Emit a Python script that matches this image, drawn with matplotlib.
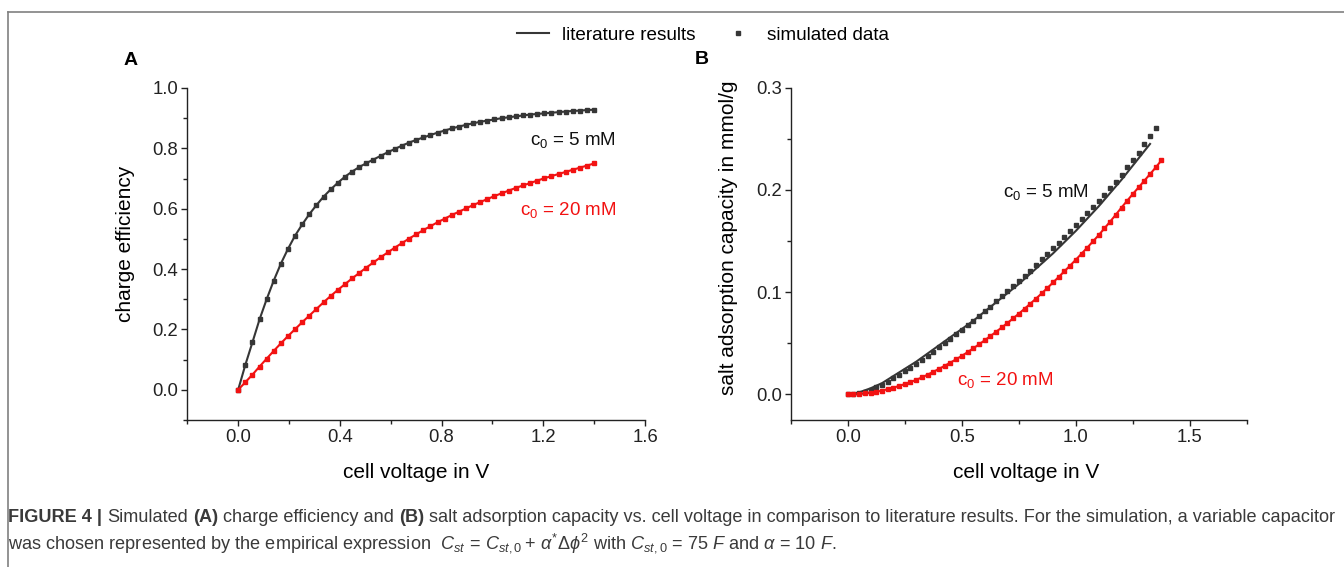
import matplotlib
matplotlib.use('Agg')
import matplotlib.pyplot as plt
from matplotlib.lines import Line2D
from matplotlib.ticker import MultipleLocator

plt.rcParams['font.family'] = ['Liberation Sans', 'DejaVu Sans']
plt.rcParams['mathtext.fontset'] = 'custom'
plt.rcParams['mathtext.rm'] = 'Liberation Sans'
plt.rcParams['mathtext.it'] = 'Liberation Sans:italic'
plt.rcParams['mathtext.bf'] = 'Liberation Sans:bold'

# ---------------- data ----------------
volt_A = [0.000, 0.028, 0.056, 0.084, 0.112, 0.140, 0.168, 0.196, 0.224, 0.252,
          0.280, 0.308, 0.336, 0.364, 0.392, 0.420, 0.448, 0.476, 0.504, 0.532,
          0.560, 0.588, 0.616, 0.644, 0.672, 0.700, 0.728, 0.756, 0.784, 0.812,
          0.840, 0.868, 0.896, 0.924, 0.952, 0.980, 1.008, 1.036, 1.064, 1.092,
          1.120, 1.148, 1.176, 1.204, 1.232, 1.260, 1.288, 1.316, 1.344, 1.372,
          1.400]
eff_5mM = [0.000, 0.082, 0.157, 0.233, 0.300, 0.362, 0.418, 0.467, 0.511, 0.548,
           0.582, 0.612, 0.640, 0.664, 0.686, 0.706, 0.723, 0.738, 0.751, 0.763,
           0.775, 0.787, 0.798, 0.809, 0.819, 0.828, 0.836, 0.844, 0.852, 0.859,
           0.866, 0.872, 0.878, 0.883, 0.888, 0.892, 0.896, 0.900, 0.903, 0.906,
           0.909, 0.912, 0.914, 0.916, 0.918, 0.920, 0.922, 0.924, 0.925, 0.927,
           0.928]
eff_20mM = [0.000, 0.025, 0.050, 0.077, 0.103, 0.129, 0.154, 0.178, 0.201, 0.224,
            0.246, 0.268, 0.290, 0.311, 0.331, 0.350, 0.369, 0.387, 0.405, 0.422,
            0.439, 0.455, 0.471, 0.486, 0.501, 0.515, 0.529, 0.542, 0.555, 0.567,
            0.579, 0.590, 0.601, 0.612, 0.622, 0.632, 0.642, 0.651, 0.660, 0.669,
            0.677, 0.685, 0.693, 0.701, 0.708, 0.715, 0.722, 0.729, 0.736, 0.743,
            0.750]

volt_B = [0.000, 0.025, 0.050, 0.075, 0.100, 0.125, 0.150, 0.175, 0.200, 0.225,
          0.250, 0.275, 0.300, 0.325, 0.350, 0.375, 0.400, 0.425, 0.450, 0.475,
          0.500, 0.525, 0.550, 0.575, 0.600, 0.625, 0.650, 0.675, 0.700, 0.725,
          0.750, 0.775, 0.800, 0.825, 0.850, 0.875, 0.900, 0.925, 0.950, 0.975,
          1.000, 1.025, 1.050, 1.075, 1.100, 1.125, 1.150, 1.175, 1.200, 1.225,
          1.250, 1.275, 1.300, 1.325, 1.350, 1.375]
sac_sim_5mM = [0.0000, 0.0003, 0.0012, 0.0027, 0.0048, 0.0070, 0.0096, 0.0125, 0.0156, 0.0190,
               0.0225, 0.0261, 0.0298, 0.0338, 0.0378, 0.0419, 0.0461, 0.0503, 0.0546, 0.0589,
               0.0633, 0.0677, 0.0721, 0.0766, 0.0812, 0.0860, 0.0909, 0.0959, 0.1010, 0.1060,
               0.1110, 0.1160, 0.1210, 0.1265, 0.1320, 0.1375, 0.1430, 0.1485, 0.1540, 0.1600,
               0.1660, 0.1715, 0.1770, 0.1830, 0.1890, 0.1952, 0.2015, 0.2080, 0.2150, 0.2220,
               0.2290, 0.2365, 0.2445, 0.2525, 0.2610]
sac_20mM = [0.0000, 0.0001, 0.0004, 0.0010, 0.0017, 0.0026, 0.0037, 0.0051, 0.0066, 0.0083,
            0.0101, 0.0121, 0.0142, 0.0167, 0.0193, 0.0221, 0.0250, 0.0280, 0.0311, 0.0344,
            0.0377, 0.0413, 0.0450, 0.0489, 0.0529, 0.0570, 0.0612, 0.0655, 0.0698, 0.0744,
            0.0790, 0.0838, 0.0887, 0.0937, 0.0988, 0.1041, 0.1095, 0.1150, 0.1205, 0.1261,
            0.1318, 0.1377, 0.1436, 0.1497, 0.1558, 0.1624, 0.1690, 0.1758, 0.1828, 0.1895,
            0.1962, 0.2025, 0.2090, 0.2155, 0.2220, 0.2290]

volt_lit_B5 = [0.00, 0.05, 0.10, 0.15, 0.20, 0.25, 0.30, 0.35, 0.40, 0.45, 0.50, 0.55,
               0.60, 0.65, 0.70, 0.75, 0.80, 0.85, 0.90, 0.95, 1.00, 1.05, 1.10, 1.15,
               1.20, 1.25, 1.30, 1.325]
sac_lit_5mM = [0.000, 0.002, 0.006, 0.011, 0.018, 0.025, 0.032, 0.040, 0.048, 0.056, 0.064, 0.072,
               0.081, 0.090, 0.099, 0.108, 0.118, 0.128, 0.138, 0.149, 0.160, 0.172, 0.184, 0.197,
               0.210, 0.224, 0.238, 0.245]

xticks_A = [0.0, 0.4, 0.8, 1.2, 1.6]
yticks_A = [0.0, 0.2, 0.4, 0.6, 0.8, 1.0]
xticks_B = [0.0, 0.5, 1.0, 1.5]
yticks_B = [0.0, 0.1, 0.2, 0.3]

# ---------------- styling ----------------
W, H = 1344, 567
DARK = '#363636'
RED = '#f21212'
LW = 1.5
MS = 3.4
TICK_FS = 13.3
LABEL_FS = 15
ANN_FS = 13.5

fig = plt.figure(figsize=(W / 100, H / 100), dpi=100)


def px_axes(left, top, right, bottom):
    return fig.add_axes([left / W, 1 - bottom / H, (right - left) / W, (bottom - top) / H])


axA = px_axes(187.3, 88, 645, 420)
axB = px_axes(790.7, 87.7, 1247, 420)

for ax in (axA, axB):
    for s in ('top', 'right'):
        ax.spines[s].set_visible(False)
    for s in ('left', 'bottom'):
        ax.spines[s].set_linewidth(1.0)
        ax.spines[s].set_color('#222222')
    ax.tick_params(which='major', direction='out', length=4.5, width=1.0,
                   labelsize=TICK_FS, pad=2, colors='#222222')
    ax.tick_params(which='minor', direction='out', length=2.6, width=1.0, colors='#222222')

# Panel A
axA.plot(volt_A, eff_5mM, color=DARK, lw=LW, zorder=2)
axA.plot(volt_A, eff_5mM, ls='none', marker='s', ms=MS, color=DARK, mec=DARK, zorder=3)
axA.plot(volt_A, eff_20mM, color=RED, lw=LW, zorder=2)
axA.plot(volt_A, eff_20mM, ls='none', marker='s', ms=MS, color=RED, mec=RED, zorder=3)
axA.set_xlim(-0.2, 1.6)
axA.set_ylim(-0.1, 1.0)
axA.set_xticks(xticks_A)
axA.set_yticks(yticks_A)
axA.set_xticklabels([f'{v:.1f}' for v in xticks_A])
axA.set_yticklabels([f'{v:.1f}' for v in yticks_A])
axA.xaxis.set_minor_locator(MultipleLocator(0.2))
axA.yaxis.set_minor_locator(MultipleLocator(0.1))
axA.set_xlabel('cell voltage in V', fontsize=LABEL_FS)
axA.set_ylabel('charge efficiency', fontsize=LABEL_FS)
axA.xaxis.set_label_coords(0.50, -0.13)
axA.yaxis.set_label_coords(-0.114, 0.53)
axA.text(1.148, 0.828, r'c$_0$ = 5 mM', color='#111111', fontsize=ANN_FS, ha='left', va='center')
axA.text(1.108, 0.596, r'c$_0$ = 20 mM', color=RED, fontsize=ANN_FS, ha='left', va='center')

# Panel B
axB.plot(volt_lit_B5, sac_lit_5mM, color=DARK, lw=LW, zorder=2)
axB.plot(volt_B[:len(sac_sim_5mM)], sac_sim_5mM, ls='none', marker='s', ms=MS,
         color=DARK, mec=DARK, zorder=3)
axB.plot(volt_B, sac_20mM, color=RED, lw=LW, zorder=2)
axB.plot(volt_B, sac_20mM, ls='none', marker='s', ms=MS, color=RED, mec=RED, zorder=3)
axB.set_xlim(-0.25, 1.75)
axB.set_ylim(-0.025, 0.3)
axB.set_xticks(xticks_B)
axB.set_yticks(yticks_B)
axB.set_xticklabels([f'{v:.1f}' for v in xticks_B])
axB.set_yticklabels([f'{v:.1f}' for v in yticks_B])
axB.xaxis.set_minor_locator(MultipleLocator(0.25))
axB.yaxis.set_minor_locator(MultipleLocator(0.05))
axB.set_xlabel('cell voltage in V', fontsize=LABEL_FS)
axB.set_ylabel('salt adsorption capacity in mmol/g', fontsize=LABEL_FS)
axB.xaxis.set_label_coords(0.517, -0.13)
axB.yaxis.set_label_coords(-0.1155, 0.548)
axB.text(0.681, 0.198, r'c$_0$ = 5 mM', color='#111111', fontsize=ANN_FS, ha='left', va='center')
axB.text(0.477, 0.014, r'c$_0$ = 20 mM', color=RED, fontsize=ANN_FS, ha='left', va='center')

# Panel letters
fig.text(131 / W, 1 - 61 / H, 'A', fontsize=14, fontweight='bold', ha='center', va='center')
fig.text(702 / W, 1 - 60 / H, 'B', fontsize=14, fontweight='bold', ha='center', va='center')

# Legend
handles = [Line2D([], [], color=DARK, lw=LW),
           Line2D([], [], ls='none', marker='s', ms=MS, color=DARK)]
fig.legend(handles, ['literature results', 'simulated data'], loc='center',
           bbox_to_anchor=(703 / W, 1 - 35 / H), ncol=2, frameon=False,
           fontsize=13.6, handlelength=1.7, handletextpad=0.7, columnspacing=1.4)

# Outer frame (top and left edges visible)
fig.add_artist(Line2D([7.7 / W, 1.01], [1 - 12 / H, 1 - 12 / H], transform=fig.transFigure,
                      color='#808080', lw=1.2))
fig.add_artist(Line2D([7.7 / W, 7.7 / W], [1 - 12 / H, -0.01], transform=fig.transFigure,
                      color='#808080', lw=1.2))

# Caption
CAP_FONT = ['Liberation Sans Narrow', 'Liberation Sans', 'DejaVu Sans']
CAP_COLOR = '#3a3a3a'
renderer = fig.canvas.get_renderer()

line1 = [('FIGURE 4 |', 'bold'), ('Simulated', 'normal'), ('(A)', 'bold'),
         ('charge efficiency and', 'normal'), ('(B)', 'bold'),
         ('salt adsorption capacity vs. cell voltage in comparison to literature results. '
          'For the simulation, a variable capacitor', 'normal')]
line2 = (r'was chosen represented by the empirical expression  '
         r'$C_{st}\,=\,C_{st,0}+\,\alpha^{*}\Delta\phi^{2}$ with $C_{st,0}$ = 75 $F$ '
         r'and $\alpha$ = 10 $F$.')


def measure(txt, size, weight):
    t = fig.text(0, 0, txt, fontsize=size, fontweight=weight, family=CAP_FONT)
    w = t.get_window_extent(renderer=renderer).width
    t.remove()
    return w


def line_width(size):
    sp = measure('a a', size, 'normal') - measure('aa', size, 'normal')
    return sum(measure(s, size, w) for s, w in line1) + sp * (len(line1) - 1), sp


size = 11.0
target = 1338 - 8
for _ in range(3):
    wtot, _sp = line_width(size)
    size *= target / wtot
wtot, sp = line_width(size)

x = 8.0
y1 = 1 - 518 / H
for s, wgt in line1:
    t = fig.text(x / W, y1, s, fontsize=size, fontweight=wgt, family=CAP_FONT,
                 color=CAP_COLOR, ha='left', va='center')
    x += t.get_window_extent(renderer=renderer).width + sp

fig.text(8 / W, 1 - 543 / H, line2, fontsize=size, family=CAP_FONT, color=CAP_COLOR,
         ha='left', va='center')

fig.savefig('out.png', dpi=100)
